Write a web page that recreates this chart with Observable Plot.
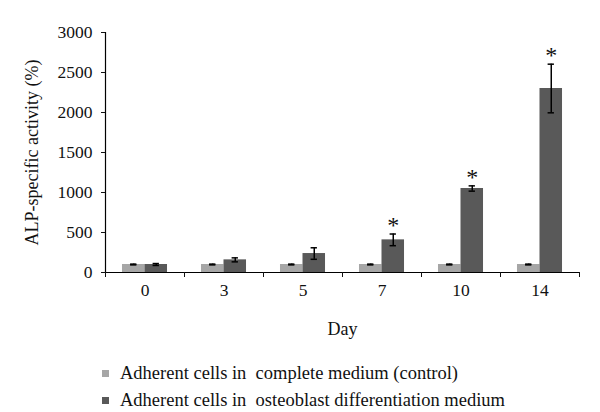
<!DOCTYPE html>
<html>
<head>
<meta charset="utf-8">
<script src="https://cdn.jsdelivr.net/npm/d3@7"></script>
<script src="https://cdn.jsdelivr.net/npm/@observablehq/plot@0.6"></script>
<style>
  html, body { margin: 0; padding: 0; background: #fff; }
  body { width: 600px; height: 412px; overflow: hidden; font-family: "Liberation Serif", "DejaVu Serif", serif; }
  #legend { position: absolute; left: 102px; top: 360px; font-size: 18.5px; color: #111; line-height: 27px; }
  .item { display: flex; align-items: center; white-space: pre; }
  .sw { width: 7px; height: 7px; margin-right: 11px; display: inline-block; }
</style>
</head>
<body>
<div id="chart"></div>
<div id="legend"></div>
<script>
const days = ["0", "3", "5", "7", "10", "14"];
const controlMean = [100, 100, 100, 100, 100, 100];
const controlErr = [5, 5, 5, 5, 5, 5];
const osteoMean = [100, 158, 237, 408, 1050, 2300];
const osteoErr = [12, 25, 72, 73, 33, 304];
const significant = [false, false, false, true, true, true];
const seriesNames = ["Adherent cells in  complete medium (control)", "Adherent cells in  osteoblast differentiation medium"];
const seriesColors = ["#a6a6a6", "#595959"];
const yTicks = [0, 500, 1000, 1500, 2000, 2500, 3000];

// layout within each day slot (index units)
const groupOffset = 0.215, barW = 0.285, capHalf = 0.04;

const rows = [];
[controlMean, osteoMean].forEach((means, s) => {
  const errs = s === 0 ? controlErr : osteoErr;
  days.forEach((d, i) => {
    const x1 = i + groupOffset + s * barW;
    rows.push({day: d, series: seriesNames[s], x1, x2: x1 + barW, xc: x1 + barW / 2,
      value: means[i], lo: means[i] - errs[i], hi: means[i] + errs[i], sig: s === 1 && significant[i]});
  });
});

const chart = Plot.plot({
  width: 600,
  height: 345,
  marginTop: 32,
  marginBottom: 73,
  marginLeft: 105,
  marginRight: 21,
  style: {fontFamily: "'Liberation Serif', 'DejaVu Serif', serif", fontSize: "17px", color: "#111", background: "#fff"},
  x: {type: "linear", domain: [0, days.length]},
  y: {domain: [0, 3000]},
  color: {domain: seriesNames, range: seriesColors},
  marks: [
    Plot.rectY(rows, {x1: "x1", x2: "x2", y1: 0, y2: "value", fill: "series"}),
    Plot.ruleX(rows, {x: "xc", y1: "lo", y2: "hi", stroke: "#000", strokeWidth: 1.5}),
    Plot.ruleY(rows, {y: "lo", x1: d => d.xc - capHalf, x2: d => d.xc + capHalf, stroke: "#000", strokeWidth: 1.5}),
    Plot.ruleY(rows, {y: "hi", x1: d => d.xc - capHalf, x2: d => d.xc + capHalf, stroke: "#000", strokeWidth: 1.5}),
    Plot.text(rows.filter(d => d.sig), {x: "xc", y: "hi", text: () => "*", fontSize: 24, fontWeight: 300, lineAnchor: "top", dy: -18, fill: "#111"}),
    Plot.ruleX([0], {stroke: "#000", strokeWidth: 1.2}),
    Plot.ruleY([0], {stroke: "#000", strokeWidth: 1.2}),
    Plot.axisY({ticks: yTicks, tickSize: 4, tickPadding: 9, tickFormat: d => String(d), label: null, fontSize: 17.5}),
    Plot.axisX({ticks: d3.range(days.length + 1), tickSize: 5, tickFormat: () => "", label: null}),
    Plot.axisX({ticks: days.map((d, i) => i + 0.5), tickSize: 0, tickPadding: 11, tickFormat: v => days[Math.floor(v)], label: null, fontSize: 17.5}),
    Plot.text(["ALP-specific activity (%)"], {frameAnchor: "left", textAnchor: "middle", rotate: -90, dx: -73, fontSize: 18, fill: "#111"}),
    Plot.text(["Day"], {frameAnchor: "bottom", dy: 62, fontSize: 18, fill: "#111"})
  ]
});
document.getElementById("chart").appendChild(chart);

const legend = document.getElementById("legend");
seriesNames.forEach((name, s) => {
  const item = document.createElement("div");
  item.className = "item";
  const sw = document.createElement("span");
  sw.className = "sw";
  sw.style.background = seriesColors[s];
  item.appendChild(sw);
  item.appendChild(document.createTextNode(name));
  legend.appendChild(item);
});
</script>
</body>
</html>
